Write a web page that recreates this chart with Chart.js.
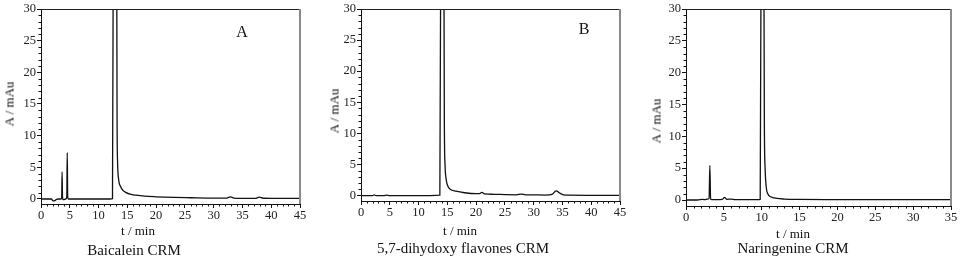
<!DOCTYPE html>
<html>
<head>
<meta charset="utf-8">
<script src="https://cdn.jsdelivr.net/npm/chart.js@4.4.0/dist/chart.umd.min.js"></script>
<style>
  body { margin: 0; background: #fff; width: 967px; height: 258px; position: relative; overflow: hidden; font-family: "Liberation Serif", "Times New Roman", serif; color: #111; }
  canvas { position: absolute; top: 0; }
  .lbl { position: absolute; white-space: nowrap; transform: translate(-50%, -50%); line-height: 1; }
  .ytitle { transform: translate(-50%, -50%) rotate(-90deg); color: #000; font-weight: normal; }
</style>
</head>
<body>
<canvas id="chartA" width="320" height="258" style="left:0px"></canvas>
<canvas id="chartB" width="320" height="258" style="left:320px"></canvas>
<canvas id="chartC" width="327" height="258" style="left:640px"></canvas>

<div class="lbl ytitle" style="left:9px;top:104px;font-size:13px">A / mAu</div>
<div class="lbl ytitle" style="left:334px;top:111px;font-size:13px">A / mAu</div>
<div class="lbl ytitle" style="left:656px;top:121px;font-size:13px">A / mAu</div>
<div class="lbl" style="left:138px;top:230px;font-size:13px">t / min</div>
<div class="lbl" style="left:460px;top:230px;font-size:13px">t / min</div>
<div class="lbl" style="left:793px;top:233px;font-size:13px">t / min</div>
<div class="lbl" style="left:134px;top:250px;font-size:15px">Baicalein CRM</div>
<div class="lbl" style="left:463px;top:248px;font-size:15px">5,7-dihydoxy flavones CRM</div>
<div class="lbl" style="left:793px;top:248px;font-size:15px">Naringenine CRM</div>
<div class="lbl" style="left:242px;top:32px;font-size:16px">A</div>
<div class="lbl" style="left:584px;top:29px;font-size:16px">B</div>

<script>
// chromatogram A: Baicalein CRM (time in min, absorbance in mAu)
const timeA = [0, 1.0, 1.8, 2.1, 2.4, 2.7, 3.0, 3.5, 3.6, 3.66, 3.74, 3.85, 4.3, 4.48, 4.56, 4.64, 4.75, 5.0, 6, 8, 10, 12.0,
  12.42, 12.55, 12.85, 13.15, 13.22, 13.3, 13.5, 13.8, 14.2, 14.8, 15.5, 16.5, 18, 20, 23, 26, 30, 32.3, 32.9, 33.5, 34.5,
  37.2, 37.9, 38.6, 40, 45];
const absA = [0, 0, 0, -0.3, -0.25, -0.05, 0, 0, 0.3, 4.3, 0.3, -0.1, 0, 0.3, 7.3, 0.3, 0, 0, 0, 0, 0, 0,
  0.05, 40, 150, 40, 12, 6, 3, 2, 1.4, 1.0, 0.75, 0.6, 0.45, 0.35, 0.25, 0.2, 0.15, 0.15, 0.35, 0.15, 0.1,
  0.1, 0.28, 0.12, 0.1, 0.1];

// chromatogram B: 5,7-dihydoxy flavones CRM
const timeB = [0, 2.0, 2.3, 2.6, 4, 4.4, 5, 8, 12, 13.7, 13.85, 14.1, 14.4, 14.48, 14.6, 14.8, 15.1, 15.5, 16.5, 18, 20,
  20.6, 21.0, 21.5, 23, 25, 27, 27.8, 28.6, 30, 32, 33.2, 33.9, 34.5, 35.2, 36, 40, 45];
const absB = [0, 0, 0.1, 0, 0, 0.08, 0, 0, 0, 0.05, 40, 150, 40, 12, 5, 2.6, 1.5, 1.0, 0.7, 0.45, 0.3,
  0.3, 0.5, 0.25, 0.2, 0.15, 0.12, 0.22, 0.12, 0.1, 0.08, 0.2, 0.75, 0.4, 0.1, 0.05, 0.03, 0.02];

// chromatogram C: Naringenine CRM
const timeC = [0, 1.5, 2.2, 2.5, 2.8, 3.05, 3.15, 3.25, 3.4, 4.0, 4.8, 5.1, 5.4, 6.0, 6.5, 7, 8, 9.5, 9.8, 9.92, 10.1, 10.28,
  10.35, 10.45, 10.6, 10.8, 11.2, 12, 13, 15, 20, 25, 30, 35];
const absC = [0, 0, 0.1, 0.05, 0.15, 0.2, 5.4, 0.2, 0.05, 0.05, 0.1, 0.4, 0.1, 0.15, 0.05, 0.05, 0.05, 0.05, 0.1, 40, 150, 40,
  12, 5, 2, 1, 0.5, 0.25, 0.15, 0.1, 0.07, 0.05, 0.05, 0.05];

// tick labels
const yTicks = [0, 5, 10, 15, 20, 25, 30];
const xTicks45 = [0, 5, 10, 15, 20, 25, 30, 35, 40, 45];
const xTicks35 = [0, 5, 10, 15, 20, 25, 30, 35];

const tickFont = { family: '"Liberation Serif", "Times New Roman", serif', size: 12.5 };

// minor ticks every 1 unit plus a top / right frame like the original plots
const frameAndMinor = {
  id: 'frameAndMinor',
  afterDraw(chart) {
    const { ctx, chartArea: a, scales } = chart;
    ctx.save();
    ctx.strokeStyle = '#111';
    ctx.lineWidth = 1;
    ctx.beginPath();
    for (let v = Math.ceil(scales.x.min); v <= scales.x.max; v++) {
      if (v % 5 === 0) continue;
      const px = Math.round(scales.x.getPixelForValue(v)) + 0.5;
      ctx.moveTo(px, a.bottom);
      ctx.lineTo(px, a.bottom + 2.5);
    }
    for (let v = 0; v <= scales.y.max; v++) {
      if (v % 5 === 0) continue;
      const py = Math.round(scales.y.getPixelForValue(v)) + 0.5;
      ctx.moveTo(a.left, py);
      ctx.lineTo(a.left - 2.5, py);
    }
    ctx.stroke();
    ctx.beginPath();
    ctx.strokeStyle = '#222';
    ctx.moveTo(a.left, a.top + 0.5);
    ctx.lineTo(a.right, a.top + 0.5);
    ctx.stroke();
    ctx.beginPath();
    ctx.strokeStyle = '#8a8a8a';
    ctx.lineWidth = 2;
    ctx.moveTo(a.right, a.top);
    ctx.lineTo(a.right, a.bottom);
    ctx.stroke();
    ctx.restore();
  }
};

function makeChart(id, times, values, xMax, xTicks, yMin, area, size) {
  const points = times.map((t, i) => ({ x: t, y: values[i] }));
  return new Chart(document.getElementById(id), {
    type: 'line',
    data: {
      datasets: [{
        data: points,
        borderColor: '#111',
        borderWidth: 1.3,
        pointRadius: 0,
        cubicInterpolationMode: 'monotone',
        fill: false,
      }],
    },
    options: {
      responsive: false,
      animation: false,
      devicePixelRatio: 1,
      layout: {
        padding: { left: 0, top: area.t, right: size.w - area.r, bottom: size.h - area.b - 20 },
      },
      plugins: { legend: { display: false }, tooltip: { enabled: false } },
      scales: {
        x: {
          type: 'linear',
          min: 0,
          max: xMax,
          afterBuildTicks: (s) => { s.ticks = xTicks.map(v => ({ value: v })); },
          afterFit: (s) => { s.height = 20; },
          grid: { drawOnChartArea: false, drawTicks: true, tickLength: 4, tickColor: '#111' },
          border: { display: true, color: '#111', width: 1 },
          ticks: { font: tickFont, color: '#222', padding: 0, maxRotation: 0, callback: v => String(v) },
        },
        y: {
          min: yMin,
          max: 30,
          afterBuildTicks: (s) => { s.ticks = yTicks.map(v => ({ value: v })); },
          afterFit: (s) => { s.width = area.l; },
          grid: { drawOnChartArea: false, drawTicks: true, tickLength: 4, tickColor: '#111' },
          border: { display: true, color: '#111', width: 1 },
          ticks: { font: tickFont, color: '#222', padding: 1, callback: v => String(v) },
        },
      },
    },
    plugins: [frameAndMinor],
  });
}

makeChart('chartA', timeA, absA, 45, xTicks45, -0.79, { l: 41, r: 300, t: 9, b: 204 }, { w: 320, h: 258 });
makeChart('chartB', timeB, absB, 45, xTicks45, -0.88, { l: 41, r: 300, t: 9, b: 201 }, { w: 320, h: 258 });
makeChart('chartC', timeC, absC, 35, xTicks35, -0.94, { l: 46, r: 311, t: 9, b: 206 }, { w: 327, h: 258 });
</script>
</body>
</html>
